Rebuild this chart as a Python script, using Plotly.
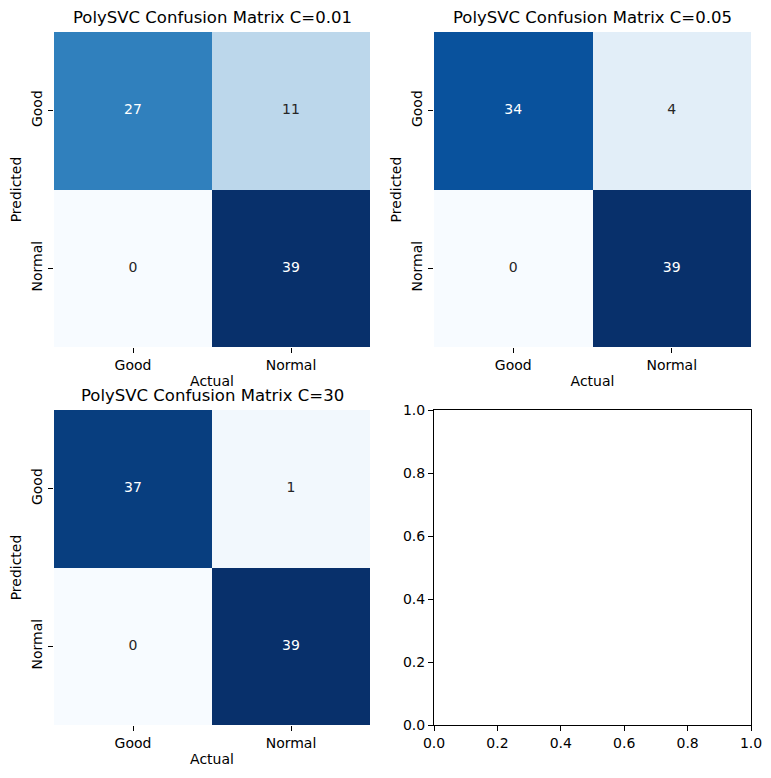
import plotly.graph_objects as go

labels = ["Good", "Normal"]
titles = ["PolySVC Confusion Matrix C=0.01", "PolySVC Confusion Matrix C=0.05", "PolySVC Confusion Matrix C=30"]
cm_c001 = [[27, 11], [0, 39]]
cm_c005 = [[34, 4], [0, 39]]
cm_c30 = [[37, 1], [0, 39]]
matrices = [cm_c001, cm_c005, cm_c30]

blues = ['rgb(247,251,255)', 'rgb(222,235,247)', 'rgb(198,219,239)', 'rgb(158,202,225)',
         'rgb(107,174,214)', 'rgb(66,146,198)', 'rgb(33,113,181)', 'rgb(8,81,156)', 'rgb(8,48,107)']
scale = [[i / 8, c] for i, c in enumerate(blues)]

def parse(c):
    return [int(v) for v in c[4:-1].split(",")]

def color_at(t):
    t = min(max(t, 0), 1) * 8
    i = min(int(t), 7)
    f = t - i
    a, b = parse(blues[i]), parse(blues[i + 1])
    return [a[k] + (b[k] - a[k]) * f for k in range(3)]

def lum(rgb):
    out = []
    for v in rgb:
        v = v / 255
        out.append(v / 12.92 if v <= 0.03928 else ((v + 0.055) / 1.055) ** 2.4)
    return 0.2126 * out[0] + 0.7152 * out[1] + 0.0722 * out[2]

OFF = 8  # page body margin
W, H = 771 - OFF, 778 - OFF
def px_x(p): return (p - OFF) / W
def px_y(p): return 1 - (p - OFF) / H

doms = [
    ([54, 370], [32, 347]),
    ([434, 751], [32, 347]),
    ([54, 370], [410, 725]),
    ([434, 751], [410, 725]),
]

fig = go.Figure()
FONT = "DejaVu Sans"

for k, (m, title) in enumerate(zip(matrices, titles)):
    ax = "" if k == 0 else str(k + 1)
    xa, ya = "x" + ax, "y" + ax
    zmin = min(min(r) for r in m)
    zmax = max(max(r) for r in m)
    fig.add_trace(go.Heatmap(z=m, x=labels, y=labels, colorscale=scale, zmin=zmin, zmax=zmax,
                             showscale=False, xaxis=xa, yaxis=ya, hoverinfo="z"))
    xs, ys, ts, cs = [], [], [], []
    for i, row in enumerate(m):
        for j, v in enumerate(row):
            xs.append(labels[j]); ys.append(labels[i]); ts.append(str(v))
            t = (v - zmin) / (zmax - zmin)
            cs.append("#262626" if lum(color_at(t)) > 0.408 else "white")
    fig.add_trace(go.Scatter(x=xs, y=ys, text=ts, mode="text", textfont=dict(color=cs, size=14, family=FONT),
                             xaxis=xa, yaxis=ya, showlegend=False, hoverinfo="skip"))
    (x0, x1), (y0, y1) = doms[k]
    fig.layout["xaxis" + ax] = dict(domain=[px_x(x0), px_x(x1)], anchor=ya, type="category", automargin=False,
                                    range=[-0.5, 1.5], showgrid=False, zeroline=False, showline=False,
                                    ticks="outside", ticklen=5, tickcolor="black",
                                    tickfont=dict(size=14, color="black", family=FONT),
                                    title=dict(text="Actual", font=dict(size=14, color="black", family=FONT), standoff=4))
    fig.layout["yaxis" + ax] = dict(domain=[px_y(y1), px_y(y0)], anchor=xa, type="category", automargin=False,
                                    range=[1.5, -0.5], showgrid=False, zeroline=False, showline=False,
                                    ticks="outside", ticklen=5, tickcolor="black", tickangle=-90,
                                    tickfont=dict(size=14, color="black", family=FONT),
                                    title=dict(text="Predicted", font=dict(size=14, color="black", family=FONT), standoff=4))
    fig.add_annotation(text=title, x=(px_x(x0) + px_x(x1)) / 2, y=px_y(y0) + 3 / H, xref="paper", yref="paper",
                       xanchor="center", yanchor="bottom", showarrow=False,
                       font=dict(size=16.5, color="black", family=FONT))

# empty fourth axes
(x0, x1), (y0, y1) = doms[3]
fig.add_trace(go.Scatter(x=[], y=[], xaxis="x4", yaxis="y4", showlegend=False))
ticks = [0.0, 0.2, 0.4, 0.6, 0.8, 1.0]
fig.layout["xaxis4"] = dict(domain=[px_x(x0), px_x(x1)], anchor="y4", range=[0, 1], showgrid=False, zeroline=False,
                            automargin=False,
                            showline=True, linecolor="black", linewidth=1, mirror=True, ticks="outside", ticklen=5,
                            tickcolor="black", tickvals=ticks, ticktext=[f"{t:.1f}" for t in ticks],
                            tickfont=dict(size=14, color="black", family=FONT))
fig.layout["yaxis4"] = dict(domain=[px_y(y1), px_y(y0)], anchor="x4", range=[0, 1], showgrid=False, zeroline=False,
                            automargin=False,
                            showline=True, linecolor="black", linewidth=1, mirror=True, ticks="outside", ticklen=5,
                            tickcolor="black", tickvals=ticks, ticktext=[f"{t:.1f}" for t in ticks],
                            tickfont=dict(size=14, color="black", family=FONT))

fig.update_layout(width=W, height=H, margin=dict(l=0, r=0, t=0, b=0), plot_bgcolor="white",
                  paper_bgcolor="white", showlegend=False, font=dict(family=FONT))
fig.write_html("out.html")
